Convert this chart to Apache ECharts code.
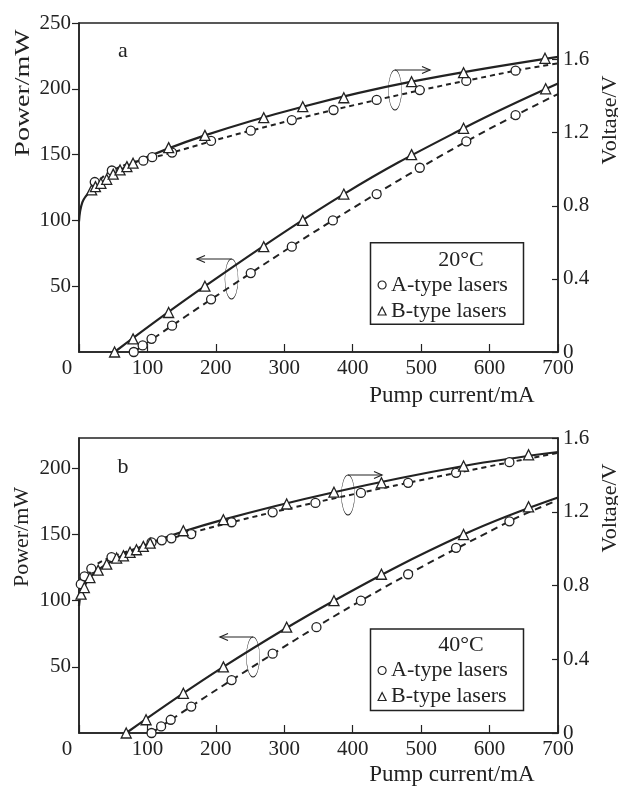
<!DOCTYPE html>
<html>
<head>
<meta charset="utf-8">
<script src="https://cdn.jsdelivr.net/npm/echarts@6/dist/echarts.min.js"></script>
<style>html,body{margin:0;padding:0;background:#fff}#c{width:618px;height:787px}</style>
</head>
<body>
<div id="c"></div>
<script>
// ---------- data (Pump current mA, Power mW / Voltage V) ----------
const currentTicks = [0, 100, 200, 300, 400, 500, 600, 700];
const powerTicksTop = [50, 100, 150, 200, 250];
const powerTicksBottom = [50, 100, 150, 200];
const voltTicks = [0, 0.4, 0.8, 1.2, 1.6];
const seriesNames = ['A-type lasers', 'B-type lasers'];
const panelLabels = ['a', 'b'];
const panelTemps = ['20°C', '40°C'];

// Panel a (20 °C) — measured points
const aPower20 = [[80,0],[93,5],[106,10],[136,20],[193,40],[251,60],[311,80],[371,100],[435,120],[498,140],[566,160],[638,180]];
const bPower20 = [[52,0],[79,10],[131,30],[184,50],[270,80],[327,100],[387,120],[486,150],[562,170],[682,200]];
const aVolt20 = [[23,0.93],[48,0.993],[94,1.047],[107,1.066],[136,1.091],[193,1.155],[251,1.211],[311,1.269],[372,1.324],[435,1.379],[498,1.433],[566,1.483],[638,1.539]];
const bVolt20 = [[18.5,0.887],[24,0.905],[32,0.923],[40.5,0.945],[50,0.973],[60,0.996],[70,1.014],[79,1.033],[131,1.118],[184,1.185],[270,1.282],[327,1.342],[387,1.391],[486,1.479],[562,1.528],[681,1.607]];
// Panel a — fitted curves
const aPower20Fit = [[80,0],[193,40],[371,100],[566,160],[700,196]];
const bPower20Fit = [[52,0],[184,50],[387,120],[562,170],[700,204]];
const aVolt20Fit = [[14,0.869],[48,0.993],[136,1.091],[251,1.211],[435,1.379],[638,1.539],[700,1.579]];
const bVolt20Fit = [[0,0.714],[5,0.82],[16,0.877],[40.5,0.945],[79,1.033],[184,1.185],[327,1.342],[486,1.479],[700,1.615]];

// Panel b (40 °C) — measured points
const aPower40 = [[106,0],[120,5],[134,10],[164,20],[223,40],[283,60],[347,80],[412,100],[481,120],[551,140],[629,160]];
const bPower40 = [[69,0],[98,10],[152.5,30],[211,50],[303.5,80],[372.6,100],[442,120],[562,150],[657,171]];
const aVolt40 = [[2.6,0.807],[8,0.85],[18,0.892],[47.5,0.954],[106,1.034],[121,1.045],[135,1.056],[164,1.079],[223,1.143],[283,1.197],[345.5,1.248],[412,1.302],[481,1.357],[551,1.411],[629,1.469]];
const bVolt40 = [[3,0.753],[7.8,0.789],[16,0.843],[28,0.883],[40.5,0.916],[55,0.949],[65,0.961],[74.6,0.98],[84,0.994],[94,1.012],[104,1.03],[152.5,1.097],[211,1.157],[303.5,1.242],[372.6,1.306],[442,1.357],[562,1.448],[657,1.509]];
// Panel b — fitted curves
const aPower40Fit = [[106,0],[223,40],[412,100],[629,160],[700,176]];
const bPower40Fit = [[69,0],[211,50],[372.6,100],[562,150],[700,178]];
const aVolt40Fit = [[2.6,0.807],[18,0.892],[47.5,0.954],[135,1.056],[283,1.197],[481,1.357],[700,1.52]];
const bVolt40Fit = [[0,0.689],[3,0.753],[16,0.843],[40.5,0.916],[104,1.03],[211,1.157],[372.6,1.306],[562,1.448],[700,1.524]];

// ---------- styling ----------
const INK = '#222';
const FF = "'Liberation Serif','Times New Roman',serif";
const chart = echarts.init(document.getElementById('c'), null, {renderer: 'canvas'});

function xAx(gi) {
  return {
    gridIndex: gi, type: 'value', min: 0, max: 700, interval: 100,
    axisLine: {show: true, lineStyle: {color: INK, width: 1.5}},
    axisTick: {show: true, inside: true, length: 8, lineStyle: {color: INK, width: 1.2}, customValues: currentTicks},
    axisLabel: {
      color: INK, fontFamily: FF, fontSize: 21, margin: 6, customValues: currentTicks,
      formatter: v => v === 0 ? '{z|0}' : String(v),
      rich: {z: {fontFamily: FF, fontSize: 21, color: INK, padding: [0, 24, 0, 0]}}
    },
    splitLine: {show: false}
  };
}
function yLeft(gi, max, ticks) {
  return {
    gridIndex: gi, type: 'value', position: 'left', min: 0, max: max, interval: 50,
    axisLine: {show: true, lineStyle: {color: INK, width: 1.5}},
    axisTick: {show: true, inside: false, length: 7, lineStyle: {color: INK, width: 1.2}, customValues: ticks},
    axisLabel: {color: INK, fontFamily: FF, fontSize: 21, margin: 8, customValues: ticks},
    splitLine: {show: false}
  };
}
function yRight(gi, max) {
  return {
    gridIndex: gi, type: 'value', position: 'right', min: 0, max: max, interval: 0.4,
    axisLine: {show: true, lineStyle: {color: INK, width: 1.5}},
    axisTick: {show: true, inside: true, length: 6, lineStyle: {color: INK, width: 1.2}, customValues: voltTicks},
    axisLabel: {color: INK, fontFamily: FF, fontSize: 21, margin: 5, customValues: voltTicks,
      formatter: v => v === 0 ? '0' : v.toFixed(1)},
    splitLine: {show: false}
  };
}
function scat(name, data, sym, xi, yi) {
  return {
    name: name, type: 'scatter', data: data, xAxisIndex: xi, yAxisIndex: yi,
    symbol: sym, symbolSize: sym === 'triangle' ? 10 : 9, z: 5, silent: true,
    itemStyle: {color: '#fff', borderColor: INK, borderWidth: 1.3, opacity: 1}
  };
}
function fit(name, data, dashed, xi, yi, dash) {
  return {
    name: name, type: 'line', data: data, xAxisIndex: xi, yAxisIndex: yi,
    showSymbol: false, symbol: 'none', smooth: 0.4, z: 3, silent: true,
    lineStyle: {color: INK, width: dashed ? 2 : 2.2, type: dashed ? dash : 'solid'}
  };
}
const powerDash = [7, 5];
const voltDash = [5, 4];

function rotText(text, x, y, size, sx) {
  return {type: 'text', x: x, y: y, rotation: Math.PI / 2, scaleX: sx || 1, z: 10, silent: true,
    style: {text: text, x: 0, y: 0, fill: INK, font: size + 'px ' + FF, align: 'center', verticalAlign: 'middle'}};
}
function plainText(text, x, y, size) {
  return {type: 'text', x: x, y: y, z: 10, silent: true,
    style: {text: text, x: 0, y: 0, fill: INK, font: size + 'px ' + FF, align: 'center', verticalAlign: 'middle'}};
}
function ellipse(cx, cy) {
  return {type: 'circle', x: cx, y: cy, scaleX: 0.33, z: 10, silent: true,
    shape: {cx: 0, cy: 0, r: 20},
    style: {fill: 'none', stroke: INK, lineWidth: 1.2, strokeNoScale: true}};
}
function arrow(x1, y, x2) {
  const d = x2 > x1 ? -1 : 1;
  return [
    {type: 'line', z: 10, silent: true, shape: {x1: x1, y1: y, x2: x2, y2: y}, style: {stroke: INK, lineWidth: 1.2}},
    {type: 'polyline', z: 10, silent: true, shape: {points: [[x2 + d * 8, y - 3.5], [x2, y], [x2 + d * 8, y + 3.5]]},
      style: {stroke: INK, lineWidth: 1.2, fill: 'none'}}
  ];
}
function legendBox(y) {
  return {type: 'rect', z: 9, silent: true, shape: {x: 370.5, y: y, width: 153, height: 81.5},
    style: {fill: '#fff', stroke: INK, lineWidth: 1.5}};
}
function legendCfg(top) {
  return {
    orient: 'vertical', left: 377.5, top: top, padding: 0, itemGap: 4,
    itemWidth: 8, itemHeight: 8, selectedMode: false, z: 12,
    textStyle: {color: INK, fontFamily: FF, fontSize: 22, lineHeight: 22},
    data: [
      {name: seriesNames[0], icon: 'circle', itemStyle: {color: '#fff', borderColor: INK, borderWidth: 1.2}},
      {name: seriesNames[1], icon: 'triangle', itemStyle: {color: '#fff', borderColor: INK, borderWidth: 1.2}}
    ]
  };
}

const option = {
  animation: false,
  backgroundColor: '#fff',
  grid: [
    {left: 79, top: 23, width: 479, height: 329, show: true, borderColor: INK, borderWidth: 1.5, backgroundColor: 'transparent'},
    {left: 79, top: 438, width: 479, height: 295, show: true, borderColor: INK, borderWidth: 1.5, backgroundColor: 'transparent'}
  ],
  xAxis: [xAx(0), xAx(1)],
  yAxis: [yLeft(0, 250, powerTicksTop), yRight(0, 1.8), yLeft(1, 223, powerTicksBottom), yRight(1, 1.6)],
  legend: [legendCfg(274), legendCfg(659.5)],
  series: [
    fit('A power fit 20', aPower20Fit, true, 0, 0, powerDash),
    fit('B power fit 20', bPower20Fit, false, 0, 0),
    fit('A voltage fit 20', aVolt20Fit, true, 0, 1, voltDash),
    fit('B voltage fit 20', bVolt20Fit, false, 0, 1),
    scat(seriesNames[0], aPower20, 'circle', 0, 0),
    scat(seriesNames[1], bPower20, 'triangle', 0, 0),
    scat(seriesNames[0], aVolt20, 'circle', 0, 1),
    scat(seriesNames[1], bVolt20, 'triangle', 0, 1),

    fit('A power fit 40', aPower40Fit, true, 1, 2, powerDash),
    fit('B power fit 40', bPower40Fit, false, 1, 2),
    fit('A voltage fit 40', aVolt40Fit, true, 1, 3, voltDash),
    fit('B voltage fit 40', bVolt40Fit, false, 1, 3),
    scat(seriesNames[0], aPower40, 'circle', 1, 2),
    scat(seriesNames[1], bPower40, 'triangle', 1, 2),
    scat(seriesNames[0], aVolt40, 'circle', 1, 3),
    scat(seriesNames[1], bVolt40, 'triangle', 1, 3)
  ],
  graphic: [].concat(
    [rotText('Power/mW', 23, 93, 22, 1.27), rotText('Power/mW', 22, 537, 22, 1),
     rotText('Voltage/V', 610, 120, 22, 1), rotText('Voltage/V', 610, 508, 22, 1),
     plainText('Pump current/mA', 452, 396, 23), plainText('Pump current/mA', 452, 775, 23),
     plainText(panelLabels[0], 123, 51, 22), plainText(panelLabels[1], 123, 467, 22),
     legendBox(242.7), legendBox(629),
     plainText(panelTemps[0], 461, 260, 22), plainText(panelTemps[1], 461, 645, 22),
     ellipse(395, 90), ellipse(231.5, 279), ellipse(348, 495), ellipse(253, 657)],
    arrow(395, 70, 430), arrow(231.5, 259, 197), arrow(348, 475, 382), arrow(253, 637, 220)
  )
};
chart.setOption(option);
</script>
</body>
</html>
